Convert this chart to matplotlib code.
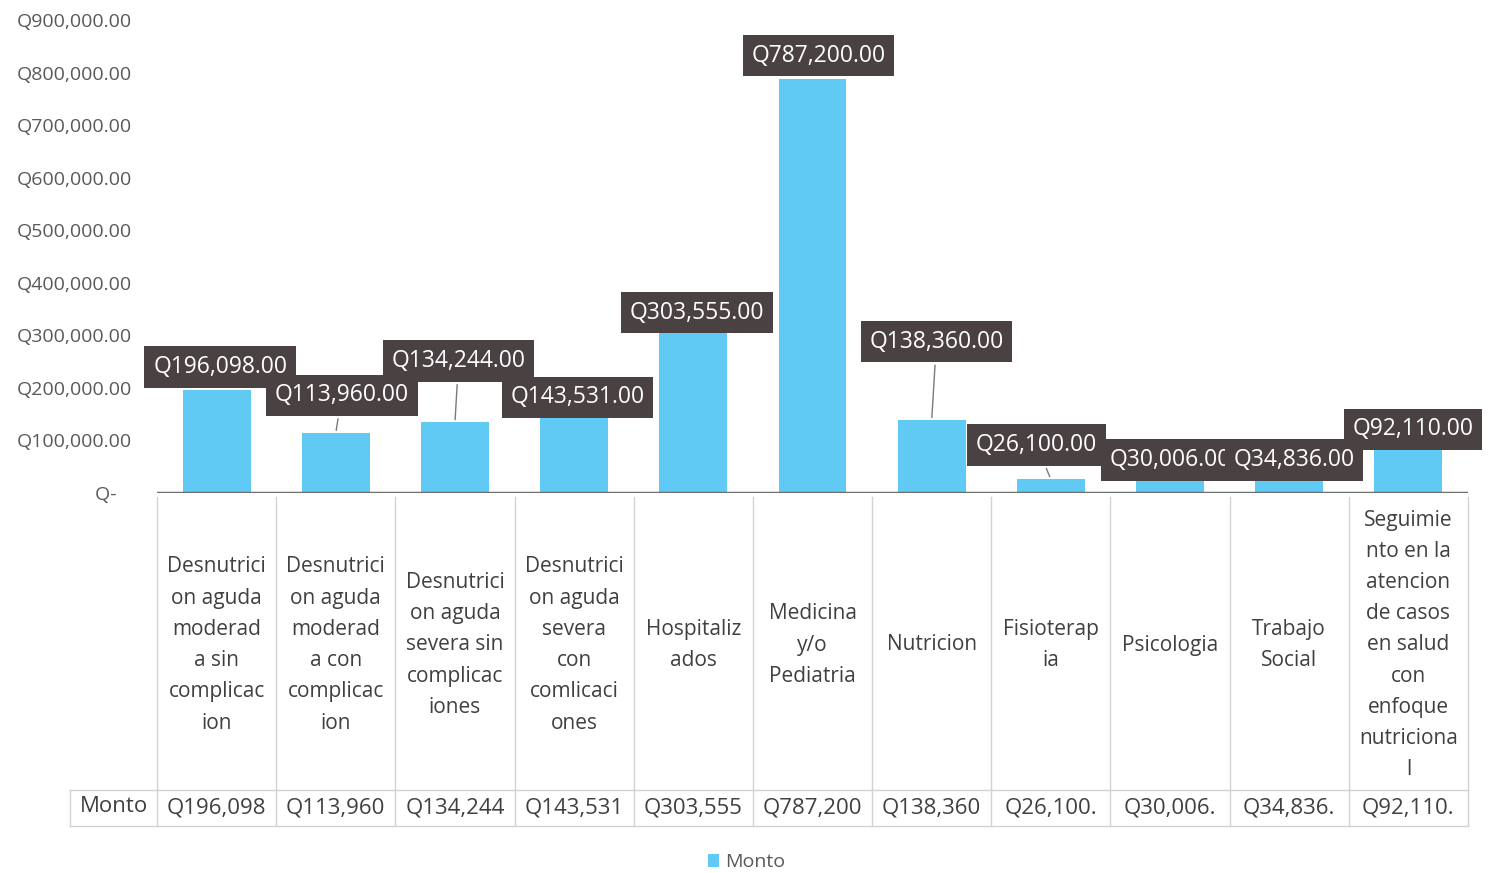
import matplotlib
matplotlib.use('Agg')
from matplotlib import pyplot as plt
from matplotlib.transforms import blended_transform_factory

plt.rcParams['font.family'] = ['Open Sans', 'DejaVu Sans']

# data
categorias = [
    'Desnutrici\non aguda\nmoderad\na sin\ncomplicac\nion',
    'Desnutrici\non aguda\nmoderad\na con\ncomplicac\nion',
    'Desnutrici\non aguda\nsevera sin\ncomplicac\niones',
    'Desnutrici\non aguda\nsevera\ncon\ncomlicaci\nones',
    'Hospitaliz\nados',
    'Medicina\ny/o\nPediatria',
    'Nutricion',
    'Fisioterap\nia',
    'Psicologia',
    'Trabajo\nSocial',
    'Seguimie\nnto en la\natencion\nde casos\nen salud\ncon\nenfoque\nnutriciona\nl',
]
monto = [196098, 113960, 134244, 143531, 303555, 787200, 138360, 26100, 30006, 34836, 92110]
tabla = ['Q196,098', 'Q113,960', 'Q134,244', 'Q143,531', 'Q303,555', 'Q787,200',
         'Q138,360', 'Q26,100.', 'Q30,006.', 'Q34,836.', 'Q92,110.']
yticks = [0, 100000, 200000, 300000, 400000, 500000, 600000, 700000, 800000, 900000]

# where the data-label boxes sit (data coords) and their stacking order
lbl_x = [0.03, 1.05, 2.03, 3.03, 4.03, 5.05, 6.04, 6.88, 8.0, 9.04, 10.04]
lbl_y = [240000, 186000, 251000, 182000, 343000, 832000, 288000, 91000, 63000, 63000, 121000]
lbl_z = [10, 11, 12, 13, 14, 15, 16, 17, 18, 20, 19]
leader = [False, True, True, False, False, False, True, True, False, False, False]

W, H = 1493, 873
fig = plt.figure(figsize=(W / 100, H / 100), dpi=100)
ax = fig.add_axes([157 / W, 1 - 493 / H, (1468 - 157) / W, (493 - 20) / H])

x = list(range(len(monto)))
bars = ax.bar(x, monto, width=0.57, color='#60caf4', label='Monto', zorder=2)
ax.axhline(0, color='#6e6e6e', lw=2.5, zorder=3)

ax.set_xlim(-0.5, len(monto) - 0.5)
ax.set_ylim(0, 900000)
ax.set_xticks([])
ax.set_yticks(yticks)
ax.set_yticklabels(['Q-   '] + ['Q{:,.2f}'.format(v) for v in yticks[1:]],
                   fontsize=14, color='#595959')
ax.tick_params(axis='y', length=0, pad=18)
for s in ax.spines.values():
    s.set_visible(False)

# data labels
for i in range(len(monto)):
    kw = dict(arrowstyle='-', color='#7a7a7a', lw=1) if leader[i] else None
    ax.annotate('Q{:,.2f}'.format(monto[i]), xy=(x[i], monto[i]),
                xytext=(lbl_x[i], lbl_y[i]), ha='center', va='center',
                fontsize=16.5, color='white', zorder=lbl_z[i],
                bbox=dict(boxstyle='square,pad=0.38', fc='#4a4143', ec='none'),
                arrowprops=kw, annotation_clip=False)

# data table under the axis
tr = blended_transform_factory(ax.transData, fig.transFigure)
gc = '#d2d2d2'
y_top, y_mid, y_bot = 1 - 497 / H, 1 - 790 / H, 1 - 826 / H
x_hdr = -0.5 - (157 - 70) / 119.2
for i in range(len(monto) + 1):
    ax.plot([i - 0.5, i - 0.5], [y_top, y_bot], color=gc, lw=1, transform=tr, clip_on=False)
ax.plot([x_hdr, x_hdr], [y_mid, y_bot], color=gc, lw=1, transform=tr, clip_on=False)
for yy in (y_mid, y_bot):
    ax.plot([x_hdr, len(monto) - 0.5], [yy, yy], color=gc, lw=1, transform=tr, clip_on=False)

for i in range(len(monto)):
    ax.text(x[i], 1 - 645 / H, categorias[i], transform=tr, ha='center', va='center',
            fontsize=15, color='#404040', linespacing=1.64)
    ax.text(x[i], 1 - 808 / H, tabla[i], transform=tr, ha='center', va='center',
            fontsize=16, color='#404040')
ax.text((x_hdr - 0.5) / 2, 1 - 806 / H, 'Monto', transform=tr, ha='center', va='center',
        fontsize=16, color='#404040')

fig.legend(handles=[bars], labels=['Monto'], loc='lower center', bbox_to_anchor=(0.5, -0.018),
           frameon=False, fontsize=14, labelcolor='#595959', handlelength=0.6,
           handleheight=0.6, handletextpad=0.3)

fig.savefig('out.png', dpi=100)
